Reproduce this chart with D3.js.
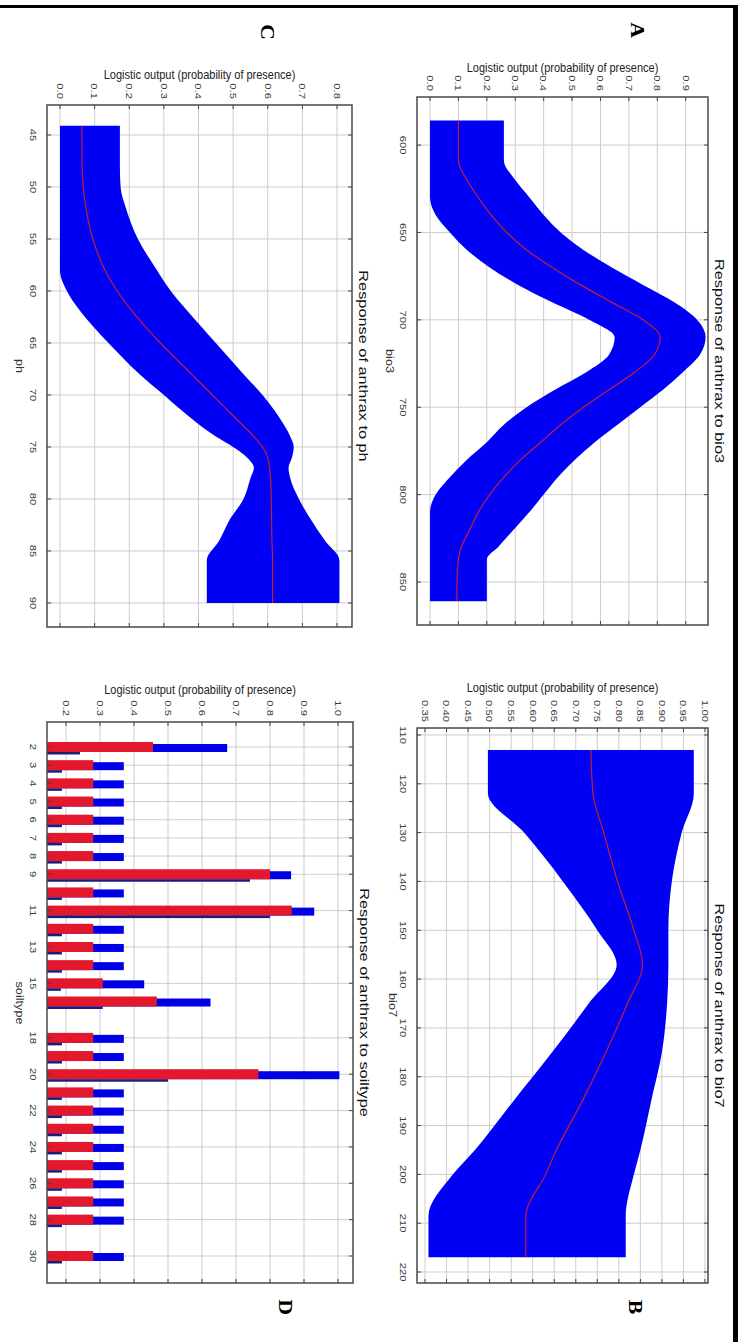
<!DOCTYPE html>
<html><head><meta charset="utf-8">
<script src="https://cdn.jsdelivr.net/npm/d3@7"></script>
<style>body{margin:0;background:#fff}svg{display:block}</style>
</head><body>
<svg id="c" width="743" height="1342"></svg>
<script>
// ---------- DATA ----------
// Panel A : bio3
const bio3Values = [586, 600, 609, 620, 630, 640, 650, 660, 670, 680, 690, 700, 710, 720, 730, 740, 750, 760, 770, 780, 790, 800, 810, 820, 830, 837, 850, 861];
const bio3Mean   = [.10, .10, .10, .13, .17, .215, .27, .34, .43, .53, .64, .75, .81, .79, .72, .63, .54, .46, .39, .32, .26, .21, .17, .14, .11, .10, .095, .095];
const bio3Upper  = [.26, .26, .26, .30, .35, .40, .46, .54, .64, .75, .86, .94, .97, .95, .89, .82, .74, .66, .58, .51, .45, .40, .35, .295, .24, .20, .20, .20];
const bio3Lower  = [0, 0, 0, 0, 0, .02, .07, .13, .21, .31, .43, .56, .65, .63, .55, .44, .34, .26, .20, .13, .07, .02, 0, 0, 0, 0, 0, 0];
const bio3Ticks  = [600, 650, 700, 750, 800, 850];
const probTicksA = [0, .1, .2, .3, .4, .5, .6, .7, .8, .9];

// Panel B : bio7
const bio7Values = [113.1, 122, 130, 140, 150, 157, 165, 175, 185, 195, 200, 208.6, 217];
const bio7Mean   = [.735, .74, .765, .797, .835, .855, .82, .77, .715, .655, .63, .584, .584];
const bio7Upper  = [.974, .974, .946, .923, .915, .915, .912, .90, .875, .85, .835, .816, .816];
const bio7Lower  = [.496, .496, .58, .67, .75, .795, .73, .645, .555, .466, .415, .358, .358];
const bio7Ticks  = [110, 120, 130, 140, 150, 160, 170, 180, 190, 200, 210, 220];
const probTicksB = [.35, .40, .45, .50, .55, .60, .65, .70, .75, .80, .85, .90, .95, 1.00];

// Panel C : ph
const phValues = [44.1, 48, 50, 52, 55, 58, 60, 62, 65, 68, 70, 72, 74, 75, 76, 77, 78, 80, 82, 84, 85.9, 90];
const phMean   = [.063, .064, .067, .075, .095, .13, .165, .21, .29, .38, .44, .50, .56, .585, .60, .605, .608, .61, .611, .612, .614, .614];
const phUpper  = [.173, .173, .175, .19, .225, .28, .32, .37, .45, .53, .585, .63, .665, .675, .67, .66, .665, .69, .725, .765, .807, .807];
const phLower  = [0, 0, 0, 0, 0, 0, .02, .06, .14, .23, .30, .37, .45, .50, .54, .56, .55, .53, .49, .46, .424, .424];
const phTicks  = [45, 50, 55, 60, 65, 70, 75, 80, 85, 90];
const probTicksC = [0, .1, .2, .3, .4, .5, .6, .7, .8];

// Panel D : soiltype
const soilTypes = [2, 3, 4, 5, 6, 7, 8, 9, 10, 11, 12, 13, 14, 15, 16, 18, 19, 20, 21, 22, 23, 24, 25, 26, 27, 28, 30];
const soilMean  = [.456, .28, .28, .28, .28, .28, .28, .80, .28, .864, .28, .28, .28, .308, .467, .28, .28, .766, .28, .28, .28, .28, .28, .28, .28, .28, .28];
const soilUpper = [.674, .37, .37, .37, .37, .37, .37, .862, .37, .93, .37, .37, .37, .43, .625, .37, .37, 1.004, .37, .37, .37, .37, .37, .37, .37, .37, .37];
const soilLower = [.241, .188, .188, .188, .188, .188, .188, .741, .188, .80, .188, .188, .188, .185, .308, .188, .188, .50, .188, .188, .188, .188, .188, .188, .188, .188, .188];
const soilTicks = [2, 3, 4, 5, 6, 7, 8, 9, 11, 13, 15, 18, 20, 22, 24, 26, 28, 30];
const probTicksD = [.2, .3, .4, .5, .6, .7, .8, .9, 1.0];

// ---------- DRAW ----------
const SX = 1.21; // horizontal stretch of the original figure
const svg = d3.select('#c');
const defs = svg.append('defs');
// page border (top & right)
svg.append('rect').attr('x', 0).attr('y', 5).attr('width', 738).attr('height', 3).attr('fill', '#000');
svg.append('rect').attr('x', 733).attr('y', 5).attr('width', 5).attr('height', 1337).attr('fill', '#000');

// figure drawn in its original (unrotated) orientation, then turned 90deg clockwise
const root = svg.append('g').attr('transform', 'translate(743,0) rotate(90)');
const FONT = '"Liberation Sans", Arial, Helvetica, sans-serif';

function label(g, x, y, s, o) {
  o = o || {};
  const tr = o.rotate ? `translate(${x},${y}) rotate(-90) scale(1,${SX})` : `translate(${x},${y}) scale(${SX},1)`;
  return g.append('text').attr('transform', tr)
    .attr('text-anchor', o.anchor || 'middle')
    .attr('dominant-baseline', 'central')
    .attr('font-family', o.family || FONT)
    .attr('font-size', o.size || 9.3)
    .attr('font-weight', o.weight || 'normal')
    .attr('fill', o.fill || '#3a3a3a')
    .text(s);
}

function panel(p) {
  const g = root.append('g');
  const xs = d3.scaleLinear().domain(p.xDomain).range([p.x0, p.x1]);
  const ys = d3.scaleLinear().domain(p.yDomain).range([p.y1, p.y0]);
  const id = 'clip' + p.key;
  defs.append('clipPath').attr('id', id).append('rect')
    .attr('x', p.x0).attr('y', p.y0).attr('width', p.x1 - p.x0).attr('height', p.y1 - p.y0);
  const grid = g.append('g').attr('stroke', '#cdcdcd').attr('stroke-width', 1);
  grid.selectAll('line.gx').data(p.xTicks).join('line').attr('class', 'gx')
    .attr('x1', d => xs(d)).attr('x2', d => xs(d)).attr('y1', p.y0).attr('y2', p.y1);
  grid.selectAll('line.gy').data(p.yTicks).join('line').attr('class', 'gy')
    .attr('x1', p.x0).attr('x2', p.x1).attr('y1', d => ys(d)).attr('y2', d => ys(d));
  const cg = g.append('g').attr('clip-path', `url(#${id})`);
  p.draw(cg, xs, ys);
  const tk = g.append('g').attr('stroke', '#444').attr('stroke-width', 1);
  p.xTicks.forEach(t => {
    tk.append('line').attr('x1', xs(t)).attr('x2', xs(t)).attr('y1', p.y1).attr('y2', p.y1 - 4);
    tk.append('line').attr('x1', xs(t)).attr('x2', xs(t)).attr('y1', p.y0).attr('y2', p.y0 + 4);
  });
  p.yTicks.forEach(t => {
    tk.append('line').attr('x1', p.x0).attr('x2', p.x0 + 4).attr('y1', ys(t)).attr('y2', ys(t));
    tk.append('line').attr('x1', p.x1).attr('x2', p.x1 - 4).attr('y1', ys(t)).attr('y2', ys(t));
  });
  g.append('rect').attr('x', p.x0).attr('y', p.y0).attr('width', p.x1 - p.x0).attr('height', p.y1 - p.y0)
    .attr('fill', 'none').attr('stroke', '#4a4a4a').attr('stroke-width', 1.5);
  p.xTicks.forEach(t => label(g, xs(t), p.y1 + 14, p.xFmt(t), { size: 9.3 }));
  p.yTicks.forEach(t => label(g, p.x0 - 6, ys(t), p.yFmt(t), { size: 9.3, anchor: 'end' }));
  label(g, p.x0 - p.ylabGap, (p.y0 + p.y1) / 2, 'Logistic output (probability of presence)', { size: 11, rotate: true, fill: '#222' });
  label(g, p.xlabX, p.y1 + p.xlabGap, p.xlabel, { size: 10.5, fill: '#333' });
  label(g, (p.x0 + p.x1) / 2, p.y0 - 12, p.title, { size: 13.5, fill: '#111' });
  label(g, p.letter[0], p.letter[1], p.letter[2], { size: 18, weight: 'bold', family: '"Liberation Serif", "Times New Roman", serif', fill: '#000' });
}

function bandDraw(vals, mean, lo, hi) {
  return function (cg, xs, ys) {
    const rows = vals.map((v, i) => ({ v, m: mean[i], lo: lo[i], hi: hi[i] }));
    cg.append('path').datum(rows)
      .attr('d', d3.area().x(d => xs(d.v)).y0(d => ys(d.lo)).y1(d => ys(d.hi)).curve(d3.curveMonotoneX))
      .attr('fill', '#0000f5');
    cg.append('path').datum(rows)
      .attr('d', d3.line().x(d => xs(d.v)).y(d => ys(d.m)).curve(d3.curveMonotoneX))
      .attr('fill', 'none').attr('stroke', '#c41e3a').attr('stroke-width', 1.2);
  };
}

const f1 = d3.format('.1f'), f2 = d3.format('.2f'), fi = d3.format('d');

panel({
  key: 'A', x0: 97, x1: 625, y0: 35, y1: 326,
  xDomain: [572.5, 874.6], yDomain: [-0.0458, 0.9785],
  xTicks: bio3Ticks, yTicks: probTicksA, xFmt: fi, yFmt: f1,
  ylabGap: 29, xlabel: 'bio3', xlabX: 361, xlabGap: 27,
  title: 'Response of anthrax to bio3', letter: [30, 106, 'A'],
  draw: bandDraw(bio3Values, bio3Mean, bio3Lower, bio3Upper)
});
panel({
  key: 'B', x0: 728, x1: 1283, y0: 35, y1: 326,
  xDomain: [108.57, 222.25], yDomain: [0.3314, 1.007],
  xTicks: bio7Ticks, yTicks: probTicksB, xFmt: fi, yFmt: f2,
  ylabGap: 40, xlabel: 'bio7', xlabX: 1005, xlabGap: 24,
  title: 'Response of anthrax to bio7', letter: [1307, 108, 'B'],
  draw: bandDraw(bio7Values, bio7Mean, bio7Lower, bio7Upper)
});
panel({
  key: 'C', x0: 105, x1: 627, y0: 391, y1: 696,
  xDomain: [42.115, 92.31], yDomain: [-0.0375, 0.8433],
  xTicks: phTicks, yTicks: probTicksC, xFmt: fi, yFmt: f1,
  ylabGap: 30, xlabel: 'ph', xlabX: 366, xlabGap: 27,
  title: 'Response of anthrax to ph', letter: [32, 476, 'C'],
  draw: bandDraw(phValues, phMean, phLower, phUpper)
});
panel({
  key: 'D', x0: 722, x1: 1283, y0: 390, y1: 696,
  xDomain: [0.625, 31.485], yDomain: [0.1441, 1.0441],
  xTicks: soilTicks, yTicks: probTicksD, xFmt: fi, yFmt: f1,
  ylabGap: 32, xlabel: 'soiltype', xlabX: 1003, xlabGap: 27,
  title: 'Response of anthrax to soiltype', letter: [1307, 458, 'D'],
  draw: function (cg, xs, ys) {
    const rows = soilTypes.map((c, i) => ({ c, m: soilMean[i], hi: soilUpper[i], lo: soilLower[i] }));
    const base = ys.range()[0];
    cg.selectAll('rect.hi').data(rows).join('rect').attr('class', 'hi')
      .attr('x', d => xs(d.c) - 3).attr('width', 8)
      .attr('y', d => ys(d.hi)).attr('height', d => base - ys(d.hi)).attr('fill', '#0000e6');
    cg.selectAll('rect.m').data(rows).join('rect').attr('class', 'm')
      .attr('x', d => xs(d.c) - 5).attr('width', 10)
      .attr('y', d => ys(d.m)).attr('height', d => base - ys(d.m)).attr('fill', '#e3182d');
    cg.selectAll('rect.lo').data(rows).join('rect').attr('class', 'lo')
      .attr('x', d => xs(d.c) + 5).attr('width', 2.5)
      .attr('y', d => ys(d.lo)).attr('height', d => base - ys(d.lo)).attr('fill', '#1c1c7a');
  }
});
</script>
</body></html>
